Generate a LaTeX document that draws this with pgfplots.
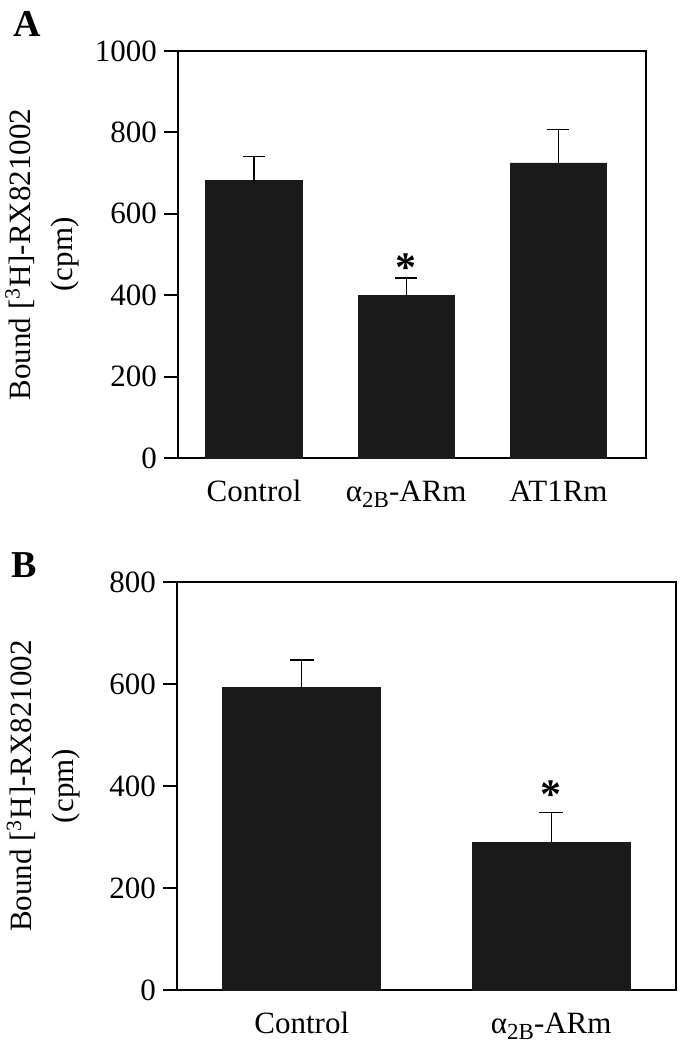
\documentclass[border=0pt]{standalone}
\usepackage{fontspec}
\setmainfont{Liberation Serif}
\usepackage{pgfplots}
\pgfplotsset{compat=1.18}
\definecolor{barfill}{HTML}{1A1A1A}
\newcommand{\lblfont}{\fontsize{15.5}{21}\selectfont}
\newcommand{\sub}[1]{\raisebox{-0.45ex}{\fontsize{11.5}{12}\selectfont #1}}
\pgfplotsset{
  myax/.style={
    scale only axis,
    ybar,
    ymin=0,
    axis line style={line width=1pt},
    tick style={line width=1pt, black},
    ytick pos=left,
    tick align=outside,
    major tick length=7pt,
    xtick style={draw=none},
    xtick={1,2,3},
    /pgf/number format/assume math mode=true,
    /pgf/number format/1000 sep={},
    ticklabel style={font=\lblfont},
    xticklabel style={text height=0.7em, text depth=0.25em, yshift=-4pt},
    label style={font=\lblfont, align=center},
    bar width=0.634,
  },
  mybar/.style={fill=barfill, draw=barfill,
    error bars/.cd, y dir=plus, y explicit,
    error bar style={line width=0.7pt, black},
    error mark options={rotate=90, line width=0.7pt, black, mark size=#1}},
}
\begin{document}
\begin{tikzpicture}
\useasboundingbox (0,0) rectangle (341.5pt,-525pt);
\node[anchor=base west, font=\fontsize{19}{20}\selectfont\bfseries, inner sep=0pt] at (6.5pt,-18pt) {A};
\node[anchor=base west, font=\fontsize{19}{20}\selectfont\bfseries, inner sep=0pt] at (5.5pt,-288.5pt) {B};
\begin{axis}[myax,
  at={(89pt,-229pt)}, anchor=south west,
  width=234pt, height=203.5pt,
  xmin=0.5, xmax=3.575,
  ymax=1000, ytick={0,200,400,600,800,1000},
  xticklabels={Control, α\sub{2B}-ARm, AT1Rm},
  ylabel={Bound [\textsuperscript{3}H]-RX821002\\(cpm)},
  ylabel style={at={(axis description cs:-0.197,0.5)}, anchor=south},
]
\addplot[mybar=5.5pt]
  coordinates {(1,681) +- (0,60) (2,399) +- (0,43) (3,725) +- (0,82)};
\node[font=\fontsize{21}{21}\selectfont\bfseries] at (axis cs:2,468) {*};
\end{axis}
\begin{axis}[myax,
  at={(88.5pt,-495pt)}, anchor=south west,
  width=249.5pt, height=204pt,
  xmin=0.5, xmax=2.5,
  ymax=800, ytick={0,200,400,600,800},
  xticklabels={Control, α\sub{2B}-ARm},
  ylabel={Bound [\textsuperscript{3}H]-RX821002\\(cpm)},
  ylabel style={at={(axis description cs:-0.180,0.5)}, anchor=south},
]
\addplot[mybar=6pt]
  coordinates {(1,593) +- (0,54) (2,290) +- (0,58)};
\node[font=\fontsize{21}{21}\selectfont\bfseries] at (axis cs:2,383) {*};
\end{axis}
\end{tikzpicture}
\end{document}
